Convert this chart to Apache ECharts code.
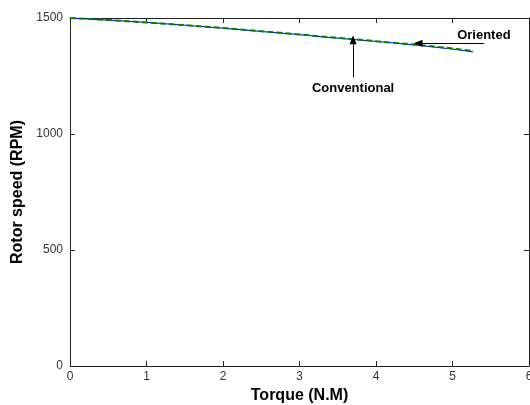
<!DOCTYPE html>
<html><head><meta charset="utf-8">
<script src="https://cdn.jsdelivr.net/npm/echarts@6/dist/echarts.min.js"></script>
<style>html,body{margin:0;padding:0;background:#fff}#c{width:530px;height:405px}</style>
</head><body><div id="c"></div>
<script>
const torque = [0, 0.5, 1, 1.5, 2, 2.5, 3, 3.5, 4, 4.5, 5, 5.27];
const conventional = [1500, 1491, 1481, 1469, 1456, 1442, 1428, 1413, 1399, 1384, 1366, 1354];
const oriented = [1500, 1491, 1481, 1469, 1457, 1443, 1429, 1414, 1400, 1386, 1369, 1357];
const xTicks = [0, 1, 2, 3, 4, 5, 6];
const yTicks = [0, 500, 1000, 1500];
const orientedArrow = [[5.41, 1391], [4.55, 1391]];
const conventionalArrow = [[3.70, 1244], [3.70, 1406]];
const orientedLabel = [5.41, 1425];
const conventionalLabel = [3.70, 1197];

const chart = echarts.init(document.getElementById('c'));
const pairs = (xs, ys) => xs.map((x, i) => [x, ys[i]]);
const FONT = 'Liberation Sans, Arial';
const labelStyle = {color: '#333', fontFamily: FONT, fontSize: 12, formatter: v => String(v)};
const axisBase = {
  axisLine: {show: true, onZero: false, lineStyle: {color: '#222', width: 1}},
  axisTick: {show: true, inside: true, length: 5, lineStyle: {color: '#222'}},
  splitLine: {show: false}
};
const mk = (extra) => Object.assign({}, axisBase, extra);
const titleStyle = {color: '#000', fontWeight: 'bold', fontSize: 16, fontFamily: FONT};
chart.setOption({
  animation: false,
  grid: {left: 70, right: 1, top: 18, bottom: 39, containLabel: false, outerBoundsMode: 'none'},
  xAxis: [
    mk({type: 'value', min: 0, max: 6, interval: 1, position: 'bottom',
      name: 'Torque (N.M)', nameLocation: 'middle', nameGap: 20, nameTextStyle: titleStyle,
      axisLabel: Object.assign({margin: 5}, labelStyle)}),
    mk({type: 'value', min: 0, max: 6, interval: 1, position: 'top', axisLabel: {show: false}})
  ],
  yAxis: [
    mk({type: 'value', min: 0, max: 1500, interval: 500, position: 'left',
      name: 'Rotor speed (RPM)', nameLocation: 'middle', nameGap: 35, nameTextStyle: titleStyle,
      axisLabel: Object.assign({margin: 7}, labelStyle)}),
    mk({type: 'value', min: 0, max: 1500, interval: 500, position: 'right', axisLabel: {show: false}})
  ],
  series: [
    {name: 'Conventional', type: 'line', data: pairs(torque, conventional), showSymbol: false,
      lineStyle: {color: '#0000ff', width: 1}},
    {name: 'Oriented', type: 'line', data: pairs(torque, oriented), showSymbol: false,
      lineStyle: {color: '#008000', width: 2, type: [6, 3]},
      markLine: {silent: true, symbol: ['none', 'triangle'], symbolSize: [7, 9], label: {show: false},
        lineStyle: {color: '#000', width: 1, type: 'solid'},
        data: [
          [{coord: orientedArrow[0]}, {coord: orientedArrow[1]}],
          [{coord: conventionalArrow[0]}, {coord: conventionalArrow[1]}]
        ]}
    }
  ]
});
const pO = chart.convertToPixel({gridIndex: 0}, orientedLabel);
const pC = chart.convertToPixel({gridIndex: 0}, conventionalLabel);
const annFont = 'bold 13px "Liberation Sans", Arial';
chart.setOption({graphic: [
  {type: 'text', x: pO[0], y: pO[1], style: {text: 'Oriented', fill: '#000', font: annFont, letterSpacing: 0.5, align: 'center', verticalAlign: 'middle'}},
  {type: 'text', x: pC[0], y: pC[1], style: {text: 'Conventional', fill: '#000', font: annFont, letterSpacing: 0.5, align: 'center', verticalAlign: 'middle'}}
]});
</script></body></html>
